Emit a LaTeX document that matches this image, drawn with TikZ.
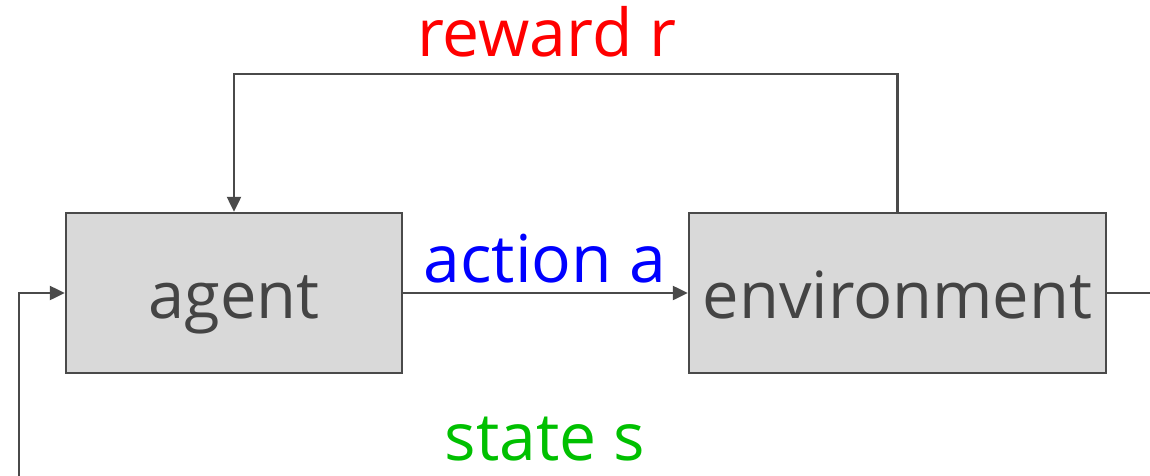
\documentclass[tikz,border=0pt]{standalone}
\usepackage{fontspec}
\setmainfont{Open Sans}
\usetikzlibrary{arrows.meta}
\definecolor{boxfill}{HTML}{D9D9D9}
\definecolor{linegray}{HTML}{4A4A4A}
\definecolor{textgray}{HTML}{444444}
\definecolor{stategreen}{HTML}{00C000}
\tikzset{
  block/.style={draw=linegray, fill=boxfill, line width=2.5pt, minimum height=160pt,
    text=textgray, font=\fontsize{65}{70}\selectfont, inner sep=0pt,
    text height=50pt, text depth=0pt},
  link/.style={draw=linegray, line width=2.5pt},
  arrowlink/.style={link, -{Triangle[length=15pt,width=14pt]}},
  label/.style={anchor=base, font=\fontsize{66}{72}\selectfont, inner sep=0pt}
}
\begin{document}
\begin{tikzpicture}[x=1pt,y=1pt]
  \useasboundingbox (0,0) rectangle (1150,475);
  \fill[white] (0,0) rectangle (1150,475);

  % the two blocks of the loop
  \node[block, minimum width=336pt] (agent) at (234,182) {agent};
  \node[block, minimum width=417pt] (env) at (897.5,182) {environment};

  % free ends of the state loop, outside the frame
  \coordinate (stateout) at (1170,182);
  \coordinate (statein) at (19,-20);

  % reward: environment back to agent over the top
  \draw[arrowlink] (env.north) |- (560,401) -| (agent.north);
  % action: agent to environment
  \draw[arrowlink] (agent.east) -- (env.west);
  % state: leaves on the right, comes back on the left
  \draw[link] (env.east) -- (stateout);
  \draw[arrowlink] (statein) |- (agent.west);

  % labels
  \node[label, text=red] (rlabel) at (547,418) {reward r};
  \node[label, text=blue] (alabel) at (545,193) {action a};
  \node[label, text=stategreen] (slabel) at (545,15) {state s};
\end{tikzpicture}
\end{document}
